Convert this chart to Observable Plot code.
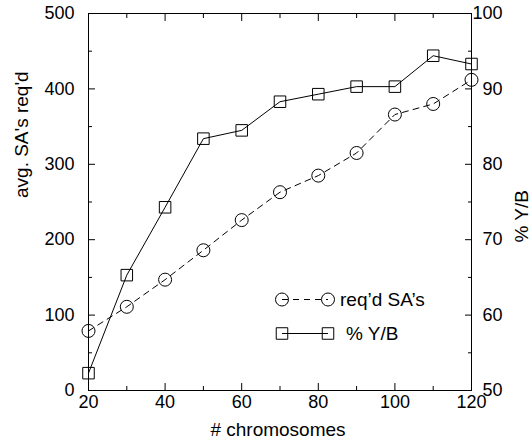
<!DOCTYPE html>
<html>
<head>
<meta charset="utf-8">
<script src="https://cdn.jsdelivr.net/npm/d3@7"></script>
<script src="https://cdn.jsdelivr.net/npm/@observablehq/plot@0.6"></script>
<style>
  html, body { margin: 0; padding: 0; background: #fff; }
  #chart { width: 532px; height: 444px; }
</style>
</head>
<body>
<div id="chart"></div>
<script>
// ---- data ----
const chromosomes = [20, 30, 40, 50, 60, 70, 80, 90, 100, 110, 120];
const reqSAs = [79, 111, 147, 186, 226, 263, 285, 315, 366, 380, 412];
const pctYB = [52.3, 65.3, 74.3, 83.4, 84.5, 88.3, 89.3, 90.3, 90.3, 94.4, 93.3];

const xMajor = [20, 40, 60, 80, 100, 120];
const xMinor = [30, 50, 70, 90, 110];
const yMajor = [0, 100, 200, 300, 400, 500];
const yMinor = [50, 150, 250, 350, 450];
const y2Major = [50, 60, 70, 80, 90, 100];
const y2Minor = [55, 65, 75, 85, 95];

const xTitle = "# chromosomes";
const yTitle = "avg. SA's req'd";
const y2Title = "% Y/B";
const legendLabels = ["req\u2019d SA\u2019s", "% Y/B"];

// ---- mapping of right axis (% Y/B: 50..100) onto left axis (0..500) ----
const toLeft = p => (p - 50) * 10;
const toRight = v => v / 10 + 50;

const reqData = chromosomes.map((c, i) => ({x: c, y: reqSAs[i]}));
const pctData = chromosomes.map((c, i) => ({x: c, y: toLeft(pctYB[i])}));

const FONT = "'Liberation Sans', Arial, Helvetica, sans-serif";
const DASH = "6,5";
const R = 6.5;

function legendMark(index, scales, values, dims) {
  const ox = dims.marginLeft, oy = dims.marginTop;
  const g = d3.create("svg:g");
  const rows = [
    {label: legendLabels[0], dash: DASH, sym: d3.symbolCircle, y: 286.5, tx: 252},
    {label: legendLabels[1], dash: null, sym: d3.symbolSquare, y: 320.5, tx: 258}
  ];
  const x1 = ox + 194, x2 = ox + 240;
  for (const r of rows) {
    const yy = oy + r.y;
    g.append("line")
      .attr("x1", x1).attr("x2", x2).attr("y1", yy).attr("y2", yy)
      .attr("stroke", "black").attr("stroke-width", 1)
      .attr("stroke-dasharray", r.dash);
    const path = d3.symbol(r.sym, Math.PI * R * R)();
    for (const xx of [x1, x2]) {
      g.append("path").attr("d", path)
        .attr("transform", `translate(${xx},${yy})`)
        .attr("fill", "none").attr("stroke", "black").attr("stroke-width", 1);
    }
    g.append("text")
      .attr("x", ox + r.tx).attr("y", yy).attr("dy", "0.35em")
      .attr("text-anchor", "start")
      .attr("font-size", 19).attr("fill", "black")
      .attr("font-family", FONT)
      .text(r.label);
  }
  return g.node();
}

const chart = Plot.plot({
  width: 532,
  height: 444,
  marginLeft: 88,
  marginRight: 61,
  marginTop: 13,
  marginBottom: 54,
  style: {fontFamily: FONT, fontSize: "18px", background: "white", color: "black", overflow: "visible"},
  x: {domain: [20, 120]},
  y: {domain: [0, 500]},
  marks: [
    // tick marks (inward)
    Plot.axisY(yMajor, {anchor: "left", tickSize: 7, dx: 7, tickFormat: () => "", label: null}),
    Plot.axisY(yMinor, {anchor: "left", tickSize: 4, dx: 4, tickFormat: () => "", label: null}),
    Plot.axisY(y2Major.map(toLeft), {anchor: "right", tickSize: 7, dx: -7, tickFormat: () => "", label: null}),
    Plot.axisY(y2Minor.map(toLeft), {anchor: "right", tickSize: 4, dx: -4, tickFormat: () => "", label: null}),
    Plot.axisX(xMajor, {anchor: "bottom", tickSize: 7, dy: -7, tickFormat: () => "", label: null}),
    Plot.axisX(xMinor, {anchor: "bottom", tickSize: 4, dy: -4, tickFormat: () => "", label: null}),
    Plot.axisX(xMajor, {anchor: "top", tickSize: 7, dy: 7, tickFormat: () => "", label: null}),
    Plot.axisX(xMinor, {anchor: "top", tickSize: 4, dy: 4, tickFormat: () => "", label: null}),
    // tick labels
    Plot.axisY(yMajor, {anchor: "left", tickSize: 0, tickPadding: 14, fontSize: 18, label: null}),
    Plot.axisY(y2Major.map(toLeft), {anchor: "right", tickSize: 0, tickPadding: 31, textAnchor: "end", fontSize: 18, tickFormat: v => String(toRight(v)), label: null}),
    Plot.axisX(xMajor, {anchor: "bottom", tickSize: 0, tickPadding: 5, fontSize: 18, label: null}),
    // frame
    Plot.frame({stroke: "black", strokeWidth: 1}),
    // axis titles
    Plot.text([yTitle], {frameAnchor: "left", dx: -67, dy: -4, rotate: -90, fontSize: 19, fill: "black"}),
    Plot.text([y2Title], {frameAnchor: "right", dx: 50, dy: -12, rotate: -90, fontSize: 19, fill: "black"}),
    Plot.text([xTitle], {frameAnchor: "bottom", dy: 45, dx: -2, fontSize: 19, fill: "black"}),
    // series
    Plot.line(reqData, {x: "x", y: "y", stroke: "black", strokeWidth: 1, strokeDasharray: DASH}),
    Plot.dot(reqData, {x: "x", y: "y", r: R, stroke: "black", fill: "none", strokeWidth: 1}),
    Plot.line(pctData, {x: "x", y: "y", stroke: "black", strokeWidth: 1}),
    Plot.dot(pctData, {x: "x", y: "y", r: R, symbol: "square", stroke: "black", fill: "none", strokeWidth: 1}),
    // legend
    legendMark
  ]
});
document.getElementById("chart").appendChild(chart);
</script>
</body>
</html>
